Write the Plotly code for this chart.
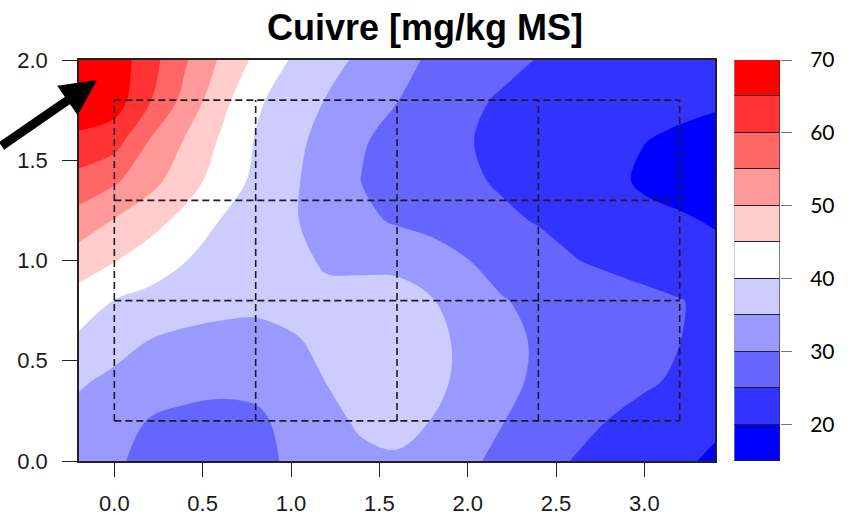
import plotly.graph_objects as go

# ---------------- data ----------------
x_coords = [-0.2, 0.0, 0.2, 0.4, 0.6, 0.8, 1.0, 1.2, 1.4, 1.6, 1.8,
            2.0, 2.2, 2.4, 2.6, 2.8, 3.0, 3.2, 3.4]
y_coords = [0.0, 0.2, 0.4, 0.6, 0.8, 1.0, 1.2, 1.4, 1.6, 1.8, 2.0]

z_y00 = [31.8, 30.6, 28.8, 28.0, 27.8, 28.4, 30.8, 32.5, 34.0, 34.6, 33.8, 30.9, 28.7, 26.7, 24.8, 23.4, 22.1, 20.7, 19.3]
z_y02 = [33.4, 31.5, 29.8, 29.0, 28.8, 29.2, 31.2, 33.7, 35.7, 36.0, 34.9, 32.5, 30.1, 28.4, 26.6, 24.9, 23.6, 22.3, 20.8]
z_y04 = [35.6, 34.0, 32.4, 31.5, 31.0, 31.2, 33.0, 35.1, 36.4, 37.2, 36.2, 33.7, 31.1, 29.3, 28.0, 26.8, 25.6, 24.4, 23.0]
z_y06 = [39.1, 36.8, 34.9, 34.0, 33.75, 33.8, 34.7, 35.6, 36.6, 37.2, 36.3, 33.8, 31.3, 29.45, 28.35, 27.25, 26.15, 25.05, 23.5]
z_y08 = [42.9, 39.9, 38.5, 37.1, 36.25, 35.9, 36.0, 35.8, 36.2, 36.5, 35.2, 32.6, 30.2, 29.1, 28.2, 27.2, 26.2, 25.2, 23.8]
z_y10 = [47.6, 45.2, 42.7, 40.1, 38.7, 37.3, 35.9, 34.6, 34.3, 34.0, 32.5, 30.1, 28.4, 26.8, 25.2, 24.1, 23.1, 22.0, 21.0]
z_y12 = [52.9, 49.7, 46.8, 43.6, 39.9, 37.7, 35.5, 33.3, 31.1, 29.4, 28.2, 27.0, 25.8, 24.7, 23.6, 22.5, 21.4, 20.4, 19.7]
z_y14 = [58.4, 55.8, 51.7, 47.3, 42.9, 39.0, 35.8, 32.8, 29.9, 28.5, 27.1, 25.7, 24.4, 23.3, 22.2, 21.3, 19.2, 18.8, 18.0]
z_y16 = [63.7, 62.1, 54.9, 49.7, 44.5, 39.7, 36.4, 33.4, 30.4, 28.6, 26.9, 25.2, 24.1, 23.2, 22.2, 21.2, 20.1, 19.3, 18.6]
z_y18 = [69.0, 67.5, 60.4, 53.5, 46.8, 40.9, 37.6, 34.8, 32.4, 30.1, 28.0, 26.0, 24.4, 23.6, 22.9, 22.3, 21.7, 21.1, 20.6]
z_y20 = [69.8, 67.9, 61.9, 55.6, 49.4, 44.0, 39.7, 36.8, 34.0, 31.4, 29.3, 27.8, 26.3, 24.8, 23.9, 23.1, 22.4, 21.8, 21.3]

levels = [15, 20, 25, 30, 35, 40, 45, 50, 55, 60, 65, 70]
level_colors = ["#0000FF", "#3333FF", "#6666FF", "#9999FF", "#CCCCFF", "#FFFFFF",
                "#FFCCCC", "#FF9999", "#FF6666", "#FF3333", "#FF0000"]

grid_x = [0.0, 0.8, 1.6, 2.4, 3.2]
grid_y = [0.2, 0.8, 1.3, 1.8]

x_ticks = [0.0, 0.5, 1.0, 1.5, 2.0, 2.5, 3.0]
y_ticks = [0.0, 0.5, 1.0, 1.5, 2.0]
cb_ticks = [20, 30, 40, 50, 60, 70]

title_text = "Cuivre [mg/kg MS]"

# ---------------- figure ----------------
z = [z_y00, z_y02, z_y04, z_y06, z_y08, z_y10, z_y12, z_y14, z_y16, z_y18, z_y20]
n = len(level_colors)
colorscale = [[i / (n - 1), c] for i, c in enumerate(level_colors)]

fig = go.Figure()

fig.add_trace(go.Contour(
    x=x_coords, y=y_coords, z=z,
    colorscale=colorscale,
    autocontour=False,
    contours=dict(start=levels[1], end=levels[-2], size=levels[1] - levels[0],
                  coloring="fill", showlines=False),
    line=dict(width=0, smoothing=1.0),
    showscale=False, hoverinfo="skip",
    xaxis="x", yaxis="y",
))

# dashed sampling grid
gx, gy = [], []
for v in grid_x:
    gx += [v, v, None]
    gy += [grid_y[0], grid_y[-1], None]
for v in grid_y:
    gx += [grid_x[0], grid_x[-1], None]
    gy += [v, v, None]
fig.add_trace(go.Scatter(
    x=gx, y=gy, mode="lines",
    line=dict(color="#1e1e1e", width=1.6, dash="7px,4px"),
    hoverinfo="skip", showlegend=False, xaxis="x", yaxis="y",
))

# colour key as stacked boxes
fig.add_trace(go.Bar(
    x=[0] * n, y=[levels[i + 1] - levels[i] for i in range(n)],
    base=levels[:-1], width=1.0,
    marker=dict(color=level_colors, line=dict(color="#222222", width=1)),
    hoverinfo="skip", showlegend=False, xaxis="x2", yaxis="y2",
))

tick_font = dict(family="Liberation Sans, Arial, sans-serif", size=22, color="#1a1a1a")

fig.update_layout(
    width=858, height=515,
    margin=dict(l=79, r=78, t=60, b=54, autoexpand=False),
    paper_bgcolor="white", plot_bgcolor="white",
    showlegend=False,
    title=dict(text="<b>" + title_text + "</b>", x=0.4953, xref="container",
               y=0.9466, yref="container", xanchor="center", yanchor="middle",
               font=dict(family="Liberation Sans, Arial, sans-serif", size=36, color="black")),
    xaxis=dict(domain=[0, 0.9073], range=[-0.2, 3.4], tickvals=x_ticks,
               ticktext=["%.1f" % v for v in x_ticks], automargin=False,
               ticks="outside", ticklen=14, tickwidth=1.3, tickcolor="#222222",
               showline=True, mirror=True, linecolor="#222222", linewidth=1.5,
               showgrid=False, zeroline=False, tickfont=tick_font,
               ticklabelstandoff=8),
    yaxis=dict(domain=[0, 1], range=[0, 2], tickvals=y_ticks,
               ticktext=["%.1f" % v for v in y_ticks], automargin=False,
               ticks="outside", ticklen=15, tickwidth=1.3, tickcolor="#222222",
               showline=True, mirror=True, linecolor="#222222", linewidth=1.5,
               showgrid=False, zeroline=False, tickfont=tick_font,
               ticklabelstandoff=10),
    xaxis2=dict(domain=[0.935, 1.0], range=[-0.5, 0.5], visible=False,
                anchor="y2", automargin=False),
    yaxis2=dict(domain=[0, 1], range=[levels[0], levels[-1]], anchor="x2",
                side="right", tickvals=cb_ticks, ticks="outside", ticklen=11,
                tickwidth=1.3, tickcolor="#777777", showline=False,
                showgrid=False, zeroline=False, automargin=False,
                tickfont=dict(family="Lato, Open Sans, sans-serif", size=21, color="black"),
                ticklabelstandoff=14),
    bargap=0,
)

# pointing arrow
fig.add_annotation(
    x=-0.098, y=1.90, xref="x", yref="y", text="",
    showarrow=True, ax=-120, ay=67, axref="pixel", ayref="pixel",
    arrowhead=2, arrowwidth=9, arrowsize=0.8, arrowcolor="black", standoff=0,
)

fig.write_html("out.html", config={"displayModeBar": False},
               post_script="document.body.style.margin='0px';")
